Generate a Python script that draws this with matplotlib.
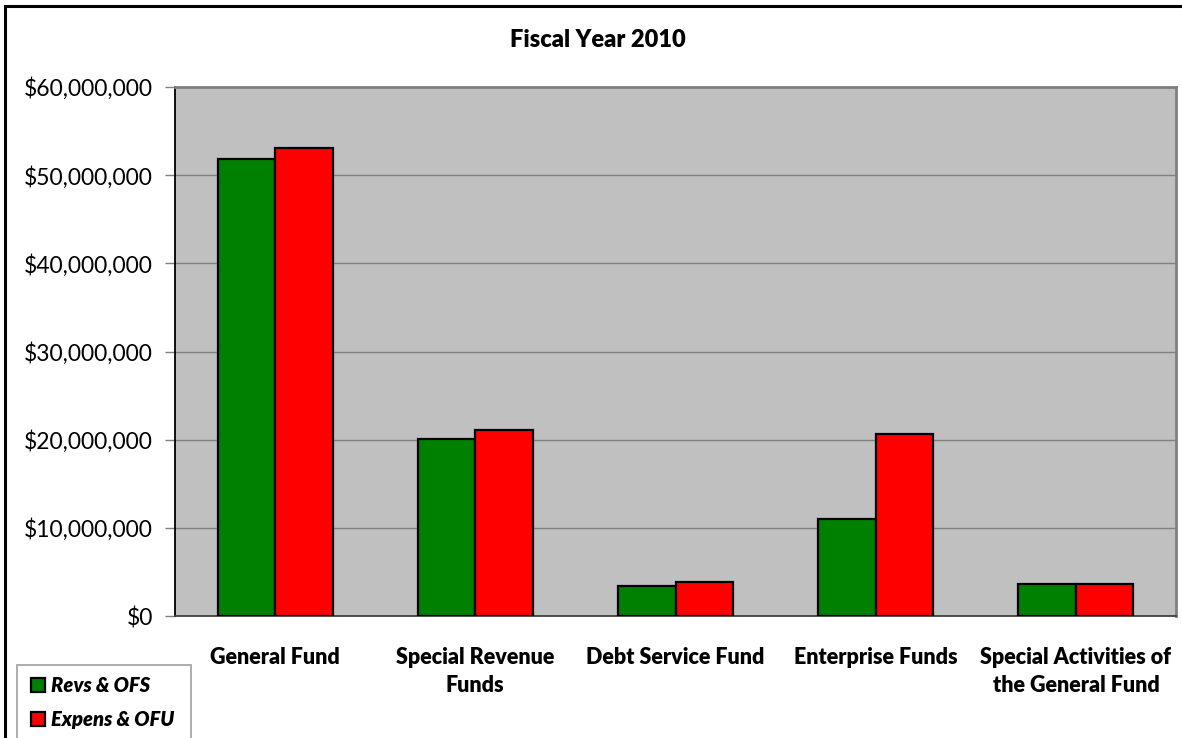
import matplotlib
matplotlib.use("Agg")
import matplotlib.pyplot as plt
import matplotlib.patches as mpatches
from matplotlib.ticker import FuncFormatter, MultipleLocator
import numpy as np

plt.rcParams['font.family'] = ['Lato', 'DejaVu Sans']

categories = ["General Fund", "Special Revenue\nFunds", "Debt Service Fund",
              "Enterprise Funds", "Special Activities of\nthe General Fund"]
revenues = [51_800_000, 20_100_000, 3_400_000, 10_950_000, 3_600_000]
expenses = [53_100_000, 21_100_000, 3_800_000, 20_600_000, 3_600_000]
series_names = ["Revs & OFS", "Expens & OFU"]
title = "Fiscal Year 2010"

W, H = 1182, 738
fig = plt.figure(figsize=(W / 100, H / 100), dpi=100)
fig.patch.set_facecolor("white")

# outer chart border (left and top edges visible)
fig.add_artist(mpatches.Rectangle((5 / W, -0.2), 1.3, 1.2 - 6 / H,
                                  transform=fig.transFigure, fill=False,
                                  edgecolor="black", linewidth=2.2, clip_on=False))

ax = fig.add_axes([175 / W, 1 - 616 / H, (1176 - 175) / W, (616 - 87) / H])
ax.set_facecolor("#C0C0C0")

x = np.arange(len(categories))
bw = 0.2875
ax.bar(x - bw / 2, revenues, width=bw, color="#008000", edgecolor="black",
       linewidth=1.6, label=series_names[0], zorder=3)
ax.bar(x + bw / 2, expenses, width=bw, color="#FF0000", edgecolor="black",
       linewidth=1.6, label=series_names[1], zorder=3)

ax.set_xlim(-0.5, len(categories) - 0.5)
ax.set_ylim(0, 60_000_000)
ax.yaxis.set_major_locator(MultipleLocator(10_000_000))
ax.yaxis.set_major_formatter(FuncFormatter(lambda v, p: f"${v:,.0f}"))
ax.grid(axis="y", color="#808080", linewidth=1, zorder=1)
ax.set_axisbelow(True)

ax.set_xticks(x)
ax.set_xticklabels(categories, fontsize=15.5, fontweight="heavy", linespacing=1.42,
                   va="top")
ax.tick_params(axis="x", length=0, pad=22)
ax.tick_params(axis="y", length=7, width=1, color="#808080", labelsize=16.5, pad=9)

ax.spines["left"].set_color("black")
ax.spines["left"].set_linewidth(1.3)
ax.spines["bottom"].set_color("#404040")
ax.spines["bottom"].set_linewidth(1.3)
for s in ("top", "right"):
    ax.spines[s].set_color("#808080")
    ax.spines[s].set_linewidth(2)

fig.text(598 / W, 1 - 40 / H, title, ha="center", va="center",
         fontsize=17, fontweight="heavy")

# legend box, running off the bottom of the chart
fig.add_artist(mpatches.Rectangle((17 / W, -0.1), (191 - 17) / W, 0.1 + 1 - 665 / H,
                                  transform=fig.transFigure, fill=False,
                                  edgecolor="#A0A0A0", linewidth=1.2, clip_on=False))
handles, labels = ax.get_legend_handles_labels()
fig.legend(handles, labels, loc="upper left",
           bbox_to_anchor=(25 / W, 1 - 670 / H), frameon=False,
           prop={"size": 14.5, "weight": "heavy", "style": "italic"},
           handlelength=0.7, handleheight=0.7, handletextpad=0.3,
           labelspacing=0.75, borderaxespad=0, borderpad=0.3)

fig.savefig("out.png", dpi=100)
